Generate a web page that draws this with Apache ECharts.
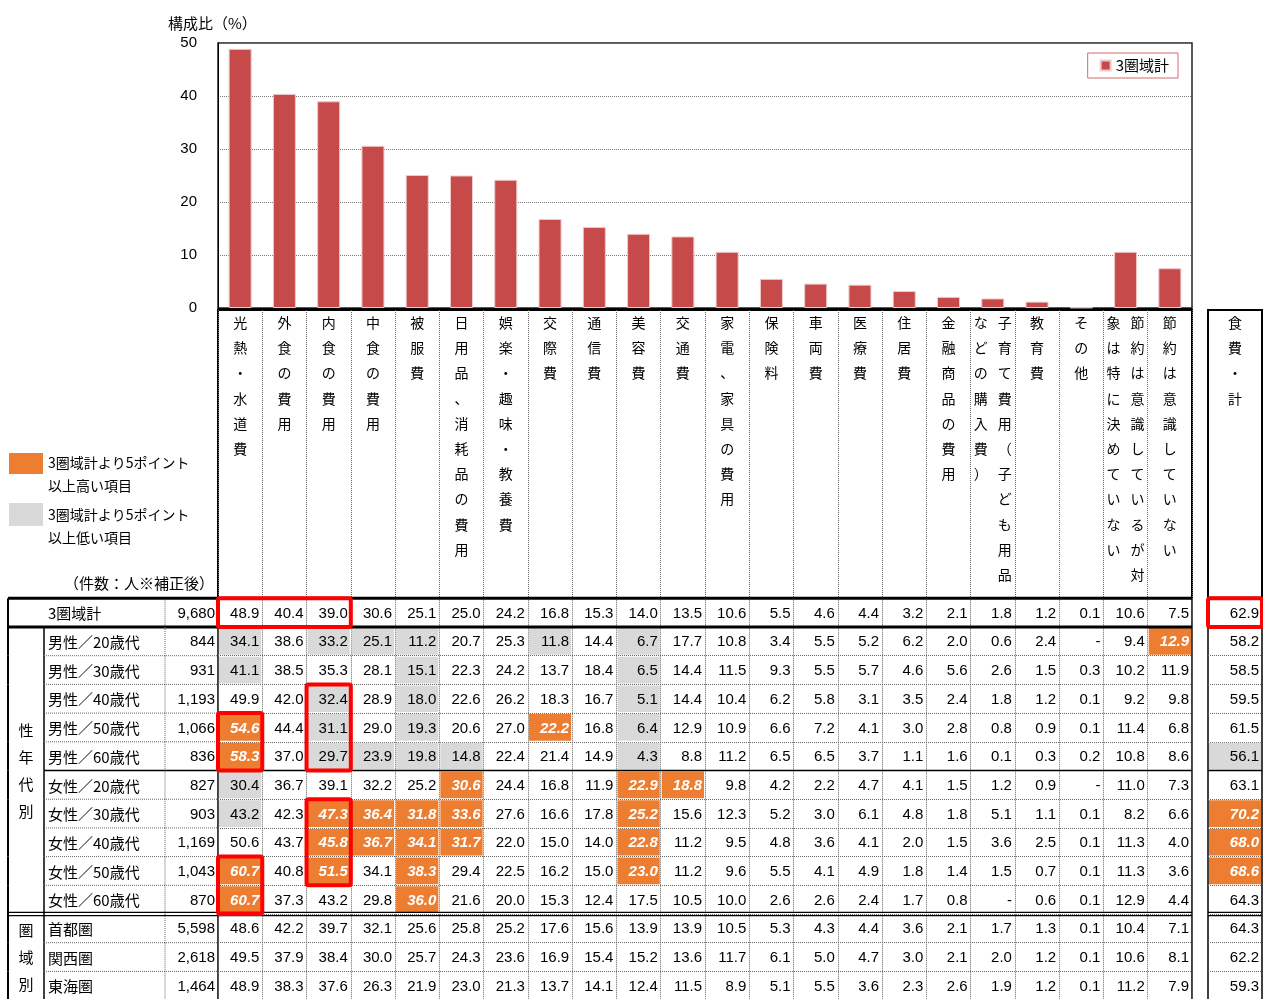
<!DOCTYPE html>
<html>
<head>
<meta charset="utf-8">
<title>節約している費目</title>
<script src="https://cdn.jsdelivr.net/npm/echarts@6/dist/echarts.min.js"></script>
<style>
html, body { margin: 0; padding: 0; background: #fff; }
#main { width: 1263px; height: 999px; }
</style>
</head>
<body>
<div id="main"></div>
<script>
// 費目（グラフ・表の列）
var categories = ['光熱・水道費', '外食の費用', '内食の費用', '中食の費用', '被服費', '日用品、消耗品の費用',
  '娯楽・趣味・教養費', '交際費', '通信費', '美容費', '交通費', '家電、家具の費用', '保険料', '車両費',
  '医療費', '住居費', '金融商品の費用', '子育て費用（子ども用品などの購入費）', '教育費', 'その他',
  '節約は意識しているが対象は特に決めていない', '節約は意識していない'];
var foodName = '食費・計';

// 3圏域計（棒グラフ）
var totalLabel = '3圏域計';
var totalCount = '9,680';
var totalValues = [48.9, 40.4, 39.0, 30.6, 25.1, 25.0, 24.2, 16.8, 15.3, 14.0, 13.5, 10.6, 5.5, 4.6, 4.4, 3.2, 2.1, 1.8, 1.2, 0.1, 10.6, 7.5];
var totalFood = 62.9;

// 属性別（null は「-」）
var rowLabels = ['男性／20歳代', '男性／30歳代', '男性／40歳代', '男性／50歳代', '男性／60歳代',
  '女性／20歳代', '女性／30歳代', '女性／40歳代', '女性／50歳代', '女性／60歳代',
  '首都圏', '関西圏', '東海圏'];
var rowCounts = ['844', '931', '1,193', '1,066', '836', '827', '903', '1,169', '1,043', '870', '5,598', '2,618', '1,464'];
var tableRows = [
  [34.1, 38.6, 33.2, 25.1, 11.2, 20.7, 25.3, 11.8, 14.4, 6.7, 17.7, 10.8, 3.4, 5.5, 5.2, 6.2, 2.0, 0.6, 2.4, null, 9.4, 12.9],
  [41.1, 38.5, 35.3, 28.1, 15.1, 22.3, 24.2, 13.7, 18.4, 6.5, 14.4, 11.5, 9.3, 5.5, 5.7, 4.6, 5.6, 2.6, 1.5, 0.3, 10.2, 11.9],
  [49.9, 42.0, 32.4, 28.9, 18.0, 22.6, 26.2, 18.3, 16.7, 5.1, 14.4, 10.4, 6.2, 5.8, 3.1, 3.5, 2.4, 1.8, 1.2, 0.1, 9.2, 9.8],
  [54.6, 44.4, 31.1, 29.0, 19.3, 20.6, 27.0, 22.2, 16.8, 6.4, 12.9, 10.9, 6.6, 7.2, 4.1, 3.0, 2.8, 0.8, 0.9, 0.1, 11.4, 6.8],
  [58.3, 37.0, 29.7, 23.9, 19.8, 14.8, 22.4, 21.4, 14.9, 4.3, 8.8, 11.2, 6.5, 6.5, 3.7, 1.1, 1.6, 0.1, 0.3, 0.2, 10.8, 8.6],
  [30.4, 36.7, 39.1, 32.2, 25.2, 30.6, 24.4, 16.8, 11.9, 22.9, 18.8, 9.8, 4.2, 2.2, 4.7, 4.1, 1.5, 1.2, 0.9, null, 11.0, 7.3],
  [43.2, 42.3, 47.3, 36.4, 31.8, 33.6, 27.6, 16.6, 17.8, 25.2, 15.6, 12.3, 5.2, 3.0, 6.1, 4.8, 1.8, 5.1, 1.1, 0.1, 8.2, 6.6],
  [50.6, 43.7, 45.8, 36.7, 34.1, 31.7, 22.0, 15.0, 14.0, 22.8, 11.2, 9.5, 4.8, 3.6, 4.1, 2.0, 1.5, 3.6, 2.5, 0.1, 11.3, 4.0],
  [60.7, 40.8, 51.5, 34.1, 38.3, 29.4, 22.5, 16.2, 15.0, 23.0, 11.2, 9.6, 5.5, 4.1, 4.9, 1.8, 1.4, 1.5, 0.7, 0.1, 11.3, 3.6],
  [60.7, 37.3, 43.2, 29.8, 36.0, 21.6, 20.0, 15.3, 12.4, 17.5, 10.5, 10.0, 2.6, 2.6, 2.4, 1.7, 0.8, null, 0.6, 0.1, 12.9, 4.4],
  [48.6, 42.2, 39.7, 32.1, 25.6, 25.8, 25.2, 17.6, 15.6, 13.9, 13.9, 10.5, 5.3, 4.3, 4.4, 3.6, 2.1, 1.7, 1.3, 0.1, 10.4, 7.1],
  [49.5, 37.9, 38.4, 30.0, 25.7, 24.3, 23.6, 16.9, 15.4, 15.2, 13.6, 11.7, 6.1, 5.0, 4.7, 3.0, 2.1, 2.0, 1.2, 0.1, 10.6, 8.1],
  [48.9, 38.3, 37.6, 26.3, 21.9, 23.0, 21.3, 13.7, 14.1, 12.4, 11.5, 8.9, 5.1, 5.5, 3.6, 2.3, 2.6, 1.9, 1.2, 0.1, 11.2, 7.9]
];
var foodValues = [58.2, 58.5, 59.5, 61.5, 56.1, 63.1, 70.2, 68.0, 68.6, 64.3, 64.3, 62.2, 59.3];

// 縦書きの見出し
var groups = [
  { name: '性年代別', from: 1, to: 10 },
  { name: '圏域別', from: 11, to: 13 }
];
// 赤枠 [列から, 行から, 列まで, 行まで]（行0 = 3圏域計）
var redBoxes = [[0, 0, 2, 0], [0, 4, 0, 5], [2, 3, 2, 5], [2, 7, 2, 9], [0, 9, 0, 10]];
var foodRedBoxes = [[0, 0, 0, 0]];

var ORANGE = '#ED7D31', GRAY = '#D9D9D9', RED = '#FF0000', BAR = '#C64A4A';
var FONT = "'Liberation Sans', 'Noto Sans CJK JP', sans-serif";
var JP = "'Noto Sans CJK JP', sans-serif";
var DOT = { stroke: '#666', lineWidth: 1, lineDash: [1, 1] };
// 2列に折り返す見出し（右列の文字数）
var headerBreaks = { '子育て費用（子ども用品などの購入費）': 11, '節約は意識しているが対象は特に決めていない': 11 };
// 行の下の罫線
var ruleAfter = { 0: 'thick', 5: 'single', 10: 'double' };

var rowNames = [totalLabel].concat(rowLabels);
var counts = [totalCount].concat(rowCounts);
var bodyRows = [totalValues].concat(tableRows);
var foodRows = [totalFood].concat(foodValues);

// 3圏域計との差で色分け（±5ポイント以上）
function flagOf(v, base, r) {
  if (r === 0 || v == null) return 0;
  var d = Math.round((v - base) * 10);
  return d >= 50 ? 1 : (d <= -50 ? -1 : 0);
}
function fmt(v) { return v == null ? '-' : v.toFixed(1); }

var cellData = [], cellInfo = [];
bodyRows.forEach(function (row, r) {
  row.forEach(function (v, c) {
    cellData.push([c, r]);
    cellInfo.push({ text: fmt(v), flag: flagOf(v, totalValues[c], r) });
  });
});
var foodData = [], foodInfo = [];
foodRows.forEach(function (v, r) {
  foodData.push([0, r]);
  foodInfo.push({ text: fmt(v), flag: flagOf(v, totalFood, r) });
});

function verticalText(name) {
  var chars = Array.from(name);
  var cut = headerBreaks[name];
  if (!cut) return chars.map(function (ch) { return '{c|' + ch + '}'; }).join('\n');
  var right = chars.slice(0, cut), left = chars.slice(cut), lines = [];
  for (var i = 0; i < right.length; i++) {
    lines.push('{c|' + (left[i] || '　') + '}{c|' + right[i] + '}');
  }
  return lines.join('\n');
}

function hline(x1, x2, y, style) {
  return { type: 'line', shape: { x1: x1, y1: y, x2: x2, y2: y }, style: style };
}
function vline(x, y1, y2, style) {
  return { type: 'line', shape: { x1: x, y1: y1, x2: x, y2: y2 }, style: style };
}
function ruleLines(kind, xa, xb, y) {
  if (kind === 'thick') return [hline(xa, xb, y, { stroke: '#000', lineWidth: 3 })];
  if (kind === 'single') return [hline(xa, xb, y, { stroke: '#000', lineWidth: 1.5 })];
  return [hline(xa, xb, y - 1.6, { stroke: '#000', lineWidth: 1.2 }),
          hline(xa, xb, y + 1.6, { stroke: '#000', lineWidth: 1.2 })];
}

function makeCellRender(info, withRules) {
  return function (params, api) {
    var cell = info[params.dataIndex];
    var r = api.value(1);
    var p = api.coord([api.value(0), r]);
    var s = api.size([1, 1]);
    var x = p[0] - s[0] / 2, y = p[1] - s[1] / 2;
    var kids = [];
    if (cell.flag !== 0) {
      kids.push({ type: 'rect', shape: { x: x + 1, y: y + 1, width: s[0] - 2, height: s[1] - 2 },
        style: { fill: cell.flag > 0 ? ORANGE : GRAY } });
    }
    kids.push({ type: 'text', style: {
      x: x + s[0] - 3, y: p[1] + 1, text: cell.text, align: 'right', verticalAlign: 'middle',
      fill: cell.flag > 0 ? '#fff' : '#000', fontSize: 15, fontFamily: FONT,
      fontWeight: cell.flag > 0 ? 'bold' : 'normal', fontStyle: cell.flag > 0 ? 'italic' : 'normal'
    } });
    if (withRules) {
      var cs = params.coordSys;
      if (r === 0) kids.push(hline(cs.x, cs.x + cs.width, y, { stroke: '#000', lineWidth: 3 }));
      if (ruleAfter[r]) kids = kids.concat(ruleLines(ruleAfter[r], cs.x, cs.x + cs.width, y + s[1]));
    }
    return { type: 'group', children: kids };
  };
}

function renderRowHead(params, api) {
  var i = params.dataIndex;
  var cs = params.coordSys;
  var p = api.coord([0, i]);
  var h = api.size([1, 1])[1];
  var top = p[1] - h / 2, bot = p[1] + h / 2;
  var x0 = cs.x, xr = cs.x + cs.width;
  var xOut = x0 - 210, xName = x0 - 174, xCnt = x0 - 53;
  var kids = [];
  kids.push({ type: 'text', style: { x: x0 - 170, y: p[1] + 1, text: rowNames[i], align: 'left',
    verticalAlign: 'middle', fill: '#000', fontSize: 15, fontFamily: JP } });
  kids.push({ type: 'text', style: { x: x0 - 3, y: p[1] + 1, text: counts[i], align: 'right',
    verticalAlign: 'middle', fill: '#000', fontSize: 15, fontFamily: FONT } });
  kids.push(vline(xCnt, top, bot, DOT));
  kids.push(vline(xOut, top, bot, { stroke: '#000', lineWidth: 2 }));
  if (i > 0) kids.push(vline(xName, top, bot, { stroke: '#000', lineWidth: 1.5 }));
  if (i === 0) kids.push(hline(xOut, xr, top, { stroke: '#000', lineWidth: 3 }));
  var rule = ruleAfter[i];
  if (rule) kids = kids.concat(ruleLines(rule, rule === 'single' ? xName : xOut, xr, bot));
  else kids.push(hline(xName, x0, bot, DOT));
  groups.forEach(function (g) {
    if (g.from !== i) return;
    var pEnd = api.coord([0, g.to]);
    kids.push({ type: 'text', style: { x: (xOut + xName) / 2, y: (p[1] + pEnd[1]) / 2,
      text: Array.from(g.name).join('\n'), align: 'center', verticalAlign: 'middle',
      lineHeight: 27, fill: '#000', fontSize: 15, fontFamily: JP } });
  });
  return { type: 'group', children: kids };
}

function renderBox(params, api) {
  var a = api.coord([api.value(0), api.value(1)]);
  var b = api.coord([api.value(2), api.value(3)]);
  var s = api.size([1, 1]);
  return { type: 'rect', shape: { x: a[0] - s[0] / 2, y: a[1] - s[1] / 2,
    width: b[0] - a[0] + s[0], height: b[1] - a[1] + s[1], r: 2 },
    style: { fill: null, stroke: RED, lineWidth: 4 } };
}

var headerLabel = {
  inside: true, interval: 0, margin: 0, color: '#000', fontSize: 14, fontFamily: JP,
  lineHeight: 25.2, formatter: verticalText,
  rich: { c: { width: 24, align: 'center', fontSize: 14, lineHeight: 25.2, fontFamily: JP, color: '#000' } }
};
var dotSplit = { show: true, interval: 0, lineStyle: { color: '#666', type: [1, 1], width: 1 } };

var chart = echarts.init(document.getElementById('main'));
var option = {
  animation: false,
  backgroundColor: '#fff',
  title: {
    text: '構成比（%）', left: 163, top: 11,
    textStyle: { fontSize: 15, fontWeight: 'normal', color: '#000', fontFamily: JP }
  },
  legend: {
    data: [totalLabel], right: 85, top: 53, icon: 'rect', itemWidth: 10, itemHeight: 10,
    borderColor: '#D8696B', borderWidth: 1, padding: [5, 9, 5, 12],
    textStyle: { fontSize: 15, color: '#000', fontFamily: JP }
  },
  grid: [
    { left: 218, top: 43, width: 974, height: 265, show: true, borderColor: '#222', borderWidth: 1.5, outerBoundsMode: 'none' },
    { left: 218, top: 310, width: 974, height: 288, show: true, borderColor: '#000', borderWidth: 2, outerBoundsMode: 'none' },
    { left: 218, top: 598.3, width: 974, height: 401.8, show: true, borderColor: '#000', borderWidth: 1.5, outerBoundsMode: 'none' },
    { left: 1208, top: 310, width: 54, height: 288, show: true, borderColor: '#000', borderWidth: 2, outerBoundsMode: 'none' },
    { left: 1208, top: 598.3, width: 54, height: 401.8, show: true, borderColor: '#000', borderWidth: 1.5, outerBoundsMode: 'none' }
  ],
  xAxis: [
    { gridIndex: 0, type: 'category', data: categories, axisLabel: { show: false },
      axisTick: { show: false }, axisLine: { lineStyle: { color: '#000', width: 1 } } },
    { gridIndex: 1, type: 'category', data: categories, position: 'top', axisLine: { show: false },
      axisTick: { show: false }, axisLabel: headerLabel, splitLine: dotSplit },
    { gridIndex: 2, type: 'category', data: categories, axisLine: { show: false },
      axisTick: { show: false }, axisLabel: { show: false }, splitLine: dotSplit },
    { gridIndex: 3, type: 'category', data: [foodName], position: 'top', axisLine: { show: false },
      axisTick: { show: false }, axisLabel: headerLabel },
    { gridIndex: 4, type: 'category', data: [foodName], axisLine: { show: false },
      axisTick: { show: false }, axisLabel: { show: false } }
  ],
  yAxis: [
    { gridIndex: 0, type: 'value', min: 0, max: 50, interval: 10,
      axisLine: { show: true, lineStyle: { color: '#000' } }, axisTick: { show: false },
      axisLabel: { color: '#000', fontSize: 15, fontFamily: FONT, margin: 21 },
      splitLine: { lineStyle: { color: '#777', type: [1, 1], width: 1 } } },
    { gridIndex: 1, type: 'value', min: 0, max: 1, show: false },
    { gridIndex: 2, type: 'category', data: rowNames, inverse: true, axisLine: { show: false },
      axisTick: { show: false }, axisLabel: { show: false }, splitLine: dotSplit },
    { gridIndex: 3, type: 'value', min: 0, max: 1, show: false },
    { gridIndex: 4, type: 'category', data: rowNames, inverse: true, axisLine: { show: false },
      axisTick: { show: false }, axisLabel: { show: false }, splitLine: dotSplit }
  ],
  graphic: [
    { type: 'rect', left: 9, top: 453, shape: { width: 34, height: 21 }, style: { fill: ORANGE } },
    { type: 'text', left: 48, top: 451, style: { text: '3圏域計より5ポイント\n以上高い項目', fill: '#000',
      font: '14px ' + JP, lineHeight: 23 } },
    { type: 'rect', left: 9, top: 503, shape: { width: 34, height: 23 }, style: { fill: GRAY } },
    { type: 'text', left: 48, top: 503, style: { text: '3圏域計より5ポイント\n以上低い項目', fill: '#000',
      font: '14px ' + JP, lineHeight: 23 } },
    { type: 'text', right: 1263 - 214, top: 576, style: { text: '（件数：人※補正後）', fill: '#000',
      font: '15px ' + JP } }
  ],
  series: [
    { name: totalLabel, type: 'bar', xAxisIndex: 0, yAxisIndex: 0, data: totalValues, barWidth: '52%',
      itemStyle: { color: BAR, borderColor: '#EFCACA', borderWidth: 1 } },
    { name: 'cells', type: 'custom', xAxisIndex: 2, yAxisIndex: 2, data: cellData, z: 2,
      renderItem: makeCellRender(cellInfo, false) },
    { name: 'rows', type: 'custom', xAxisIndex: 2, yAxisIndex: 2, z: 3,
      data: rowNames.map(function (n, i) { return [0, i]; }), renderItem: renderRowHead },
    { name: 'boxes', type: 'custom', xAxisIndex: 2, yAxisIndex: 2, data: redBoxes, z: 5,
      renderItem: renderBox },
    { name: 'food', type: 'custom', xAxisIndex: 4, yAxisIndex: 4, data: foodData, z: 3,
      renderItem: makeCellRender(foodInfo, true) },
    { name: 'foodBoxes', type: 'custom', xAxisIndex: 4, yAxisIndex: 4, data: foodRedBoxes, z: 5,
      renderItem: renderBox }
  ]
};
chart.setOption(option);
</script>
</body>
</html>
